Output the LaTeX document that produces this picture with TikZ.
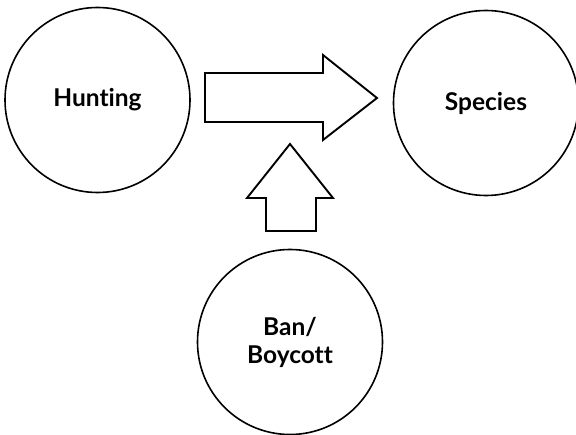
\documentclass[tikz,border=0pt]{standalone}
\usepackage{fontspec}
\setmainfont{Lato}[Ligatures=NoCommon]
\begin{document}
\begin{tikzpicture}[x=1pt,y=-1pt,
  bubble/.style={circle,draw,line width=1.6pt,minimum size=185pt,inner sep=0pt,
    align=center,font=\fontsize{24.5}{28}\selectfont\bfseries},
  blockarrow/.style={draw,line width=1.9pt,line join=miter,fill=white}]
\useasboundingbox (0,0) rectangle (576,435);
\node[bubble] (hunt) at (97.5,100) {Hunting};
\node[bubble] (spec) at (486,103) {Species};
\node[bubble] (ban) at (290,342) {Ban/\\Boycott};
% block arrow from Hunting toward Species
\coordinate (rtip) at (377,98);
\draw[blockarrow] (205,73) -- (323,73) -- (323,55) -- (rtip) -- (323,140) -- (323,122) -- (205,122) -- cycle;
% block arrow rising from Ban/Boycott
\coordinate (utip) at (290,144);
\draw[blockarrow] (266,231) -- (266,198) -- (247,198) -- (utip) -- (333,198) -- (316,198) -- (316,231) -- cycle;
\end{tikzpicture}
\end{document}
